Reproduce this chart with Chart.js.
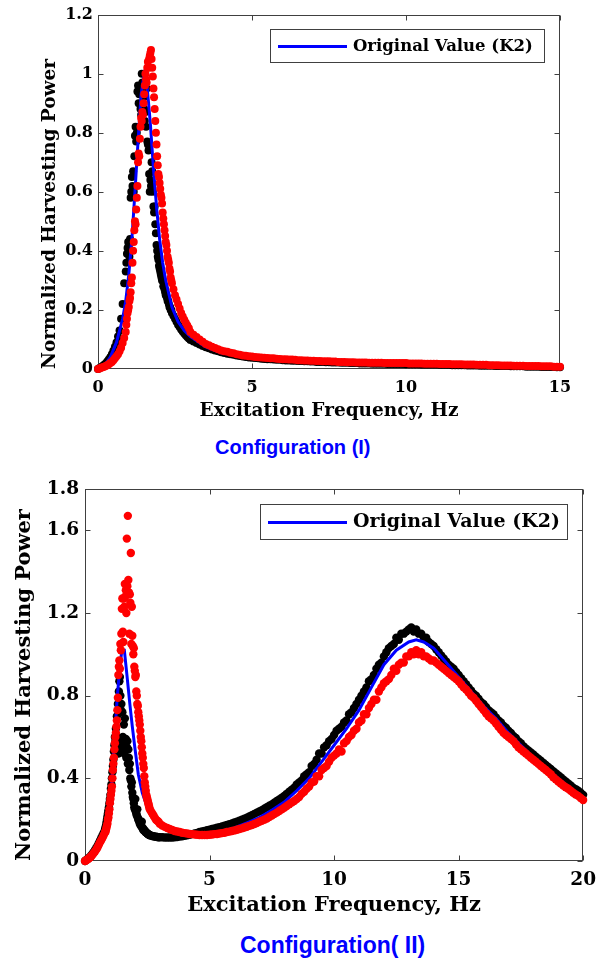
<!DOCTYPE html>
<html><head><meta charset="utf-8">
<script src="https://cdn.jsdelivr.net/npm/chart.js@4.4.1/dist/chart.umd.min.js"></script>
<style>
html,body{margin:0;padding:0;background:#fff;}
#wrap{position:relative;width:604px;height:962px;overflow:hidden;background:#fff;}
canvas{position:absolute;left:0;}
.cap{position:absolute;font-family:"Liberation Sans",Arial,sans-serif;font-weight:bold;color:#0000ff;white-space:nowrap;}
</style></head><body>
<div id="wrap">
<canvas id="c1" width="604" height="430" style="top:0px"></canvas>
<div class="cap" style="left:215px;top:437px;font-size:20px;line-height:20px;">Configuration (I)</div>
<canvas id="c2" width="604" height="460" style="top:470px"></canvas>
<div class="cap" style="left:240px;top:934px;font-size:23px;line-height:23px;">Configuration( II)</div>
</div>
<script>
// ---------- labels ----------
const legendLabel = "Original Value (K2)";
const xTitle = "Excitation Frequency, Hz";
const yTitle = "Normalized Harvesting Power";

// ---------- data : Configuration (I) ----------
const xTicks1 = [0, 5, 10, 15];
const yTicks1 = [0, 0.2, 0.4, 0.6, 0.8, 1, 1.2];

const lineF1 = [0,0.2,0.4,0.6,0.8,0.9,1.0,1.1,1.2,1.3,1.4,1.5,1.55,1.6,1.7,1.8,1.9,2.0,2.1,2.2,2.4,2.6,2.8,3.0,3.5,4,5,6,7,8,10,12,15];
const lineP1 = [0,0.01,0.04,0.09,0.17,0.23,0.32,0.44,0.6,0.77,0.93,1.0,0.99,0.95,0.83,0.68,0.55,0.44,0.36,0.3,0.21,0.16,0.13,0.11,0.075,0.055,0.038,0.03,0.026,0.022,0.018,0.014,0.007];

const freq1 = [0,0.05,0.1,0.15,0.2,0.25,0.3,0.35,0.4,0.45,0.5,0.55,0.6,0.65,0.7,0.75,0.8,0.85,0.9,
0.92,0.94,0.96,0.98,1.0,1.02,1.04,1.06,1.08,1.1,
1.12,1.14,1.16,1.18,1.2,1.22,1.24,1.26,1.28,1.3,
1.32,1.34,1.36,1.38,1.4,1.42,1.44,1.46,1.48,1.5,
1.52,1.54,1.56,1.58,1.6,1.62,1.64,1.66,1.68,1.7,
1.72,1.74,1.76,1.78,1.8,1.82,1.84,1.86,1.88,1.9,
1.92,1.94,1.96,1.98,2.0,2.02,2.04,2.06,2.08,2.1,
2.12,2.14,2.16,2.18,2.2,2.22,2.24,2.26,2.28,2.3,
2.32,2.34,2.36,2.38,2.4,
2.45,2.5,2.55,2.6,2.65,2.7,2.75,2.8,2.85,2.9,2.95,3.0,
3.1,3.2,3.3,3.4,3.5,3.6,3.7,3.8,3.9,4.0,
4.1,4.2,4.3,4.4,4.5,4.6,4.7,4.8,4.9,5.0,
5.1,5.2,5.3,5.4,5.5,5.6,5.7,5.8,5.9,6.0,
6.1,6.2,6.3,6.4,6.5,6.6,6.7,6.8,6.9,7.0,
7.1,7.2,7.3,7.4,7.5,7.6,7.7,7.8,7.9,8.0,
8.1,8.2,8.3,8.4,8.5,8.6,8.7,8.8,8.9,9.0,
9.1,9.2,9.3,9.4,9.5,9.6,9.7,9.8,9.9,10.0,
10.1,10.2,10.3,10.4,10.5,10.6,10.7,10.8,10.9,11.0,
11.1,11.2,11.3,11.4,11.5,11.6,11.7,11.8,11.9,12.0,
12.1,12.2,12.3,12.4,12.5,12.6,12.7,12.8,12.9,13.0,
13.1,13.2,13.3,13.4,13.5,13.6,13.7,13.8,13.9,14.0,
14.1,14.2,14.3,14.4,14.5,14.6,14.7,14.8,14.9,15.0];

const black1 = [0,0.003,0.006,0.01,0.014,0.019,0.025,0.032,0.04,0.05,0.062,0.075,0.09,0.11,0.13,0.17,0.22,0.29,0.33,
0.36,0.39,0.41,0.43,0.42,0.38,0.44,0.58,0.6,0.65,
0.62,0.67,0.6,0.72,0.79,0.82,0.77,0.8,0.94,0.96,
0.9,0.93,0.95,0.88,0.86,1.0,0.97,0.95,0.92,0.88,
0.84,0.87,0.82,0.95,0.77,0.76,0.74,0.66,0.6,0.64,
0.62,0.7,0.67,0.6,0.55,0.53,0.55,0.49,0.46,0.42,
0.4,0.38,0.37,0.35,0.34,0.33,0.32,0.31,0.3,0.3,
0.28,0.28,0.27,0.26,0.25,0.25,0.24,0.23,0.23,0.22,
0.21,0.21,0.2,0.2,0.19,
0.18,0.17,0.16,0.15,0.142,0.134,0.127,0.12,0.114,0.108,0.103,0.098,
0.093,0.088,0.083,0.078,0.074,0.07,0.066,0.063,0.06,0.057,
0.054,0.052,0.05,0.048,0.046,0.044,0.042,0.041,0.039,0.038,
0.037,0.036,0.035,0.034,0.033,0.033,0.032,0.031,0.031,0.03,
0.029,0.029,0.028,0.028,0.027,0.027,0.026,0.026,0.025,0.025,
0.024,0.024,0.024,0.023,0.023,0.022,0.022,0.022,0.021,0.021,
0.021,0.02,0.02,0.02,0.019,0.019,0.019,0.019,0.018,0.018,
0.018,0.018,0.018,0.017,0.017,0.017,0.017,0.017,0.017,0.016,
0.016,0.016,0.016,0.016,0.015,0.015,0.015,0.015,0.015,0.015,
0.014,0.014,0.014,0.014,0.013,0.013,0.013,0.013,0.013,0.012,
0.012,0.012,0.012,0.011,0.011,0.011,0.011,0.011,0.01,0.01,
0.01,0.01,0.01,0.009,0.009,0.009,0.009,0.009,0.008,0.008,
0.008,0.008,0.008,0.007,0.007,0.007,0.007,0.007,0.006,0.006];

const red1 = [0,0.002,0.004,0.006,0.008,0.01,0.013,0.016,0.02,0.024,0.03,0.036,0.043,0.05,0.06,0.072,0.088,0.105,0.125,
0.15,0.17,0.19,0.2,0.21,0.23,0.24,0.26,0.29,0.31,
0.36,0.4,0.43,0.47,0.5,0.49,0.54,0.58,0.62,0.7,
0.73,0.72,0.78,0.82,0.85,0.84,0.87,0.86,0.9,0.93,
0.96,1.0,0.98,0.97,1.02,1.04,1.02,1.05,1.06,1.07,
1.08,1.05,1.02,0.99,0.95,0.92,0.88,0.84,0.8,0.76,
0.72,0.69,0.66,0.65,0.63,0.61,0.59,0.58,0.56,0.53,
0.51,0.49,0.47,0.45,0.43,0.42,0.4,0.38,0.37,0.36,
0.34,0.33,0.31,0.3,0.29,
0.27,0.25,0.235,0.22,0.205,0.19,0.178,0.167,0.157,0.147,0.138,0.125,
0.116,0.108,0.1,0.092,0.085,0.08,0.075,0.071,0.067,0.063,
0.06,0.058,0.055,0.053,0.05,0.048,0.046,0.045,0.043,0.042,
0.041,0.04,0.039,0.038,0.037,0.036,0.036,0.035,0.034,0.033,
0.033,0.032,0.032,0.031,0.03,0.03,0.029,0.029,0.028,0.028,
0.027,0.027,0.026,0.026,0.026,0.025,0.025,0.024,0.024,0.024,
0.023,0.023,0.023,0.022,0.022,0.022,0.022,0.021,0.021,0.021,
0.021,0.021,0.02,0.02,0.02,0.02,0.02,0.02,0.02,0.02,
0.019,0.019,0.019,0.019,0.019,0.018,0.018,0.018,0.018,0.018,
0.017,0.017,0.017,0.017,0.016,0.016,0.016,0.016,0.015,0.015,
0.015,0.015,0.014,0.014,0.014,0.014,0.013,0.013,0.013,0.013,
0.012,0.012,0.012,0.012,0.011,0.011,0.011,0.011,0.01,0.01,
0.01,0.01,0.01,0.009,0.009,0.009,0.009,0.008,0.008,0.008];

// ---------- data : Configuration (II) ----------
const xTicks2 = [0, 5, 10, 15, 20];
const yTicks2 = [0, 0.4, 0.8, 1.2, 1.6, 1.8];

const lineF2 = [0,0.3,0.6,0.8,0.9,1.0,1.1,1.2,1.3,1.4,1.48,1.58,1.7,1.8,1.9,2.0,2.14,2.3,2.5,3.0,3.5,4.0,4.5,5.0,5.5,6.0,6.5,7.0,7.5,8.0,8.5,9.0,9.5,10.0,10.5,11.0,11.5,12.0,12.5,13.0,13.3,13.6,14.0,14.5,15.0,15.5,16.0,16.5,17.0,17.5,18.0,18.5,19.0,19.5,20.0];
const lineP2 = [0,0.02,0.07,0.12,0.16,0.24,0.42,0.62,0.8,0.94,1.02,1.02,0.88,0.76,0.65,0.55,0.42,0.33,0.26,0.18,0.15,0.135,0.13,0.135,0.145,0.16,0.185,0.21,0.245,0.285,0.34,0.4,0.48,0.56,0.64,0.73,0.84,0.95,1.02,1.06,1.07,1.06,1.03,0.96,0.89,0.82,0.75,0.69,0.62,0.56,0.5,0.45,0.4,0.35,0.3];

const freq2 = [0,0.05,0.1,0.15,0.2,0.25,0.3,0.35,0.4,0.45,0.5,0.55,0.6,0.65,0.7,0.75,0.8,
0.82,0.84,0.86,0.88,0.9,0.92,0.94,0.96,0.98,1.0,
1.02,1.04,1.06,1.08,1.1,1.12,1.14,1.16,1.18,1.2,
1.22,1.24,1.26,1.28,1.3,1.32,1.34,1.36,1.38,1.4,
1.42,1.44,1.46,1.48,1.5,1.52,1.54,1.56,1.58,1.6,
1.62,1.64,1.66,1.68,1.7,1.72,1.74,1.76,1.78,1.8,
1.82,1.84,1.86,1.88,1.9,1.92,1.94,1.96,1.98,2.0,
2.02,2.04,2.06,2.08,2.1,2.12,2.14,2.16,2.18,2.2,
2.22,2.24,2.26,2.28,2.3,2.32,2.34,2.36,2.38,2.4,
2.42,2.44,2.46,2.48,2.5,2.52,2.54,2.56,2.58,2.6,
2.65,2.7,2.75,2.8,2.85,2.9,2.95,3.0,
3.1,3.2,3.3,3.4,3.5,3.6,3.7,3.8,3.9,4.0,
4.1,4.2,4.3,4.4,4.5,4.6,4.7,4.8,4.9,5.0,
5.1,5.2,5.3,5.4,5.5,5.6,5.7,5.8,5.9,6.0,
6.1,6.2,6.3,6.4,6.5,6.6,6.7,6.8,6.9,7.0,
7.1,7.2,7.3,7.4,7.5,7.6,7.7,7.8,7.9,8.0,
8.1,8.2,8.3,8.4,8.5,8.6,8.7,8.8,8.9,9.0,
9.1,9.2,9.3,9.4,9.5,9.6,9.7,9.8,9.9,10.0,
10.1,10.2,10.3,10.4,10.5,10.6,10.7,10.8,10.9,11.0,
11.1,11.2,11.3,11.4,11.5,11.6,11.7,11.8,11.9,12.0,
12.1,12.2,12.3,12.4,12.5,12.6,12.7,12.8,12.9,13.0,
13.1,13.2,13.3,13.4,13.5,13.6,13.7,13.8,13.9,14.0,
14.1,14.2,14.3,14.4,14.5,14.6,14.7,14.8,14.9,15.0,
15.1,15.2,15.3,15.4,15.5,15.6,15.7,15.8,15.9,16.0,
16.1,16.2,16.3,16.4,16.5,16.6,16.7,16.8,16.9,17.0,
17.1,17.2,17.3,17.4,17.5,17.6,17.7,17.8,17.9,18.0,
18.1,18.2,18.3,18.4,18.5,18.6,18.7,18.8,18.9,19.0,
19.1,19.2,19.3,19.4,19.5,19.6,19.7,19.8,19.9,20.0];

const black2 = [0,0.005,0.01,0.015,0.02,0.027,0.035,0.043,0.052,0.062,0.073,0.085,0.098,0.11,0.123,0.136,0.15,
0.16,0.17,0.185,0.2,0.215,0.23,0.245,0.26,0.28,0.3,
0.32,0.35,0.37,0.4,0.43,0.46,0.49,0.53,0.56,0.6,
0.58,0.64,0.55,0.7,0.6,0.76,0.52,0.82,0.87,0.89,
0.8,0.73,0.76,0.57,0.72,0.6,0.54,0.66,0.52,0.69,
0.58,0.59,0.5,0.55,0.58,0.47,0.54,0.5,0.44,0.47,
0.4,0.39,0.36,0.38,0.33,0.31,0.3,0.28,0.26,0.25,
0.3,0.24,0.23,0.22,0.25,0.21,0.2,0.2,0.19,0.18,
0.18,0.17,0.17,0.19,0.16,0.16,0.15,0.15,0.15,0.145,
0.14,0.14,0.138,0.135,0.133,0.13,0.13,0.128,0.126,0.125,
0.123,0.121,0.12,0.118,0.117,0.116,0.115,0.115,
0.115,0.114,0.114,0.114,0.114,0.115,0.116,0.118,0.12,0.122,
0.124,0.127,0.13,0.133,0.136,0.14,0.143,0.146,0.149,0.152,
0.155,0.158,0.161,0.164,0.167,0.171,0.174,0.178,0.182,0.186,
0.19,0.195,0.2,0.205,0.21,0.216,0.222,0.228,0.234,0.24,
0.246,0.253,0.26,0.267,0.274,0.282,0.29,0.298,0.306,0.315,
0.325,0.335,0.345,0.355,0.37,0.38,0.39,0.41,0.42,0.43,
0.46,0.47,0.49,0.52,0.52,0.55,0.56,0.58,0.59,0.61,
0.63,0.64,0.65,0.67,0.68,0.71,0.72,0.74,0.76,0.78,
0.8,0.82,0.84,0.87,0.88,0.9,0.93,0.95,0.96,0.99,
1.01,1.03,1.04,1.05,1.08,1.07,1.1,1.1,1.11,1.12,
1.13,1.11,1.12,1.1,1.1,1.08,1.08,1.06,1.05,1.04,
1.025,1.01,0.995,0.98,0.965,0.95,0.94,0.93,0.915,0.9,
0.885,0.87,0.855,0.84,0.825,0.81,0.8,0.785,0.77,0.76,
0.745,0.73,0.72,0.71,0.695,0.68,0.67,0.655,0.645,0.63,
0.62,0.605,0.595,0.58,0.57,0.555,0.545,0.535,0.525,0.515,
0.505,0.495,0.485,0.475,0.465,0.455,0.445,0.435,0.425,0.415,
0.405,0.395,0.385,0.375,0.365,0.355,0.348,0.34,0.33,0.32];

const red2 = [0,0.004,0.008,0.012,0.017,0.023,0.03,0.038,0.046,0.055,0.065,0.077,0.09,0.1,0.112,0.125,0.138,
0.14,0.15,0.16,0.17,0.18,0.2,0.21,0.23,0.25,0.28,
0.3,0.32,0.34,0.36,0.4,0.44,0.47,0.5,0.54,0.57,
0.6,0.62,0.65,0.68,0.73,0.79,0.9,0.94,0.97,0.93,
1.05,1.02,1.1,1.22,1.27,1.11,1.06,1.27,1.23,1.34,
1.28,1.31,1.2,1.56,1.33,1.67,1.36,1.3,1.1,1.29,
1.25,1.49,1.05,1.23,1.09,1.04,1.0,1.03,0.94,0.92,
0.89,0.9,0.82,0.8,0.76,0.75,0.72,0.7,0.68,0.66,
0.63,0.6,0.58,0.55,0.52,0.5,0.47,0.45,0.41,0.38,
0.36,0.34,0.32,0.31,0.3,0.29,0.28,0.27,0.26,0.25,
0.24,0.23,0.22,0.21,0.2,0.195,0.19,0.18,
0.172,0.165,0.16,0.155,0.15,0.145,0.143,0.14,0.137,0.135,
0.133,0.131,0.13,0.128,0.127,0.126,0.126,0.126,0.126,0.127,
0.128,0.13,0.131,0.133,0.135,0.137,0.14,0.142,0.145,0.148,
0.151,0.155,0.158,0.162,0.166,0.17,0.174,0.179,0.184,0.19,
0.195,0.2,0.206,0.213,0.22,0.227,0.234,0.242,0.25,0.258,
0.266,0.275,0.283,0.29,0.3,0.31,0.325,0.335,0.35,0.36,
0.38,0.385,0.41,0.41,0.44,0.45,0.46,0.48,0.5,0.51,
0.52,0.54,0.53,0.57,0.58,0.6,0.61,0.63,0.64,0.67,
0.68,0.71,0.71,0.74,0.76,0.78,0.78,0.82,0.84,0.86,
0.87,0.88,0.9,0.93,0.92,0.95,0.96,0.96,0.99,0.99,
1.01,1.0,1.02,1.0,1.01,0.99,0.99,0.98,0.97,0.97,
0.96,0.95,0.94,0.93,0.92,0.91,0.9,0.89,0.88,0.87,
0.855,0.84,0.83,0.815,0.8,0.79,0.775,0.76,0.745,0.73,
0.715,0.7,0.69,0.68,0.665,0.65,0.635,0.62,0.61,0.6,
0.59,0.58,0.565,0.55,0.54,0.53,0.52,0.51,0.5,0.49,
0.48,0.47,0.46,0.45,0.44,0.43,0.42,0.405,0.395,0.385,
0.375,0.365,0.357,0.35,0.34,0.33,0.322,0.315,0.305,0.295];

// ---------- helpers & plugins ----------
const pts = (xs, ys) => xs.map((x, i) => ({x: x, y: ys[i]}));

const framePlugin = {
  id: 'frame',
  beforeDatasetsDraw(chart, args, o) {
    const {ctx, chartArea: a, scales} = chart;
    const L = Math.round(a.left) + 0.5, R = Math.round(a.right) - 0.5;
    const T = Math.round(a.top) + 0.5, B = Math.round(a.bottom) - 0.5;
    ctx.save();
    ctx.strokeStyle = o.color; ctx.lineWidth = 1;
    ctx.strokeRect(L, T, R - L, B - T);
    ctx.beginPath();
    scales.x.ticks.forEach(t => {
      const p = Math.round(scales.x.getPixelForValue(t.value)) + 0.5;
      ctx.moveTo(p, B); ctx.lineTo(p, B - o.len);
      ctx.moveTo(p, T); ctx.lineTo(p, T + o.len);
    });
    scales.y.ticks.forEach(t => {
      const p = Math.round(scales.y.getPixelForValue(t.value)) + 0.5;
      ctx.moveTo(L, p); ctx.lineTo(L + o.len, p);
      ctx.moveTo(R, p); ctx.lineTo(R - o.len, p);
    });
    ctx.stroke();
    ctx.restore();
  }
};

const boxLegend = {
  id: 'boxLegend',
  afterDatasetsDraw(chart, args, o) {
    const ctx = chart.ctx;
    const ds = chart.data.datasets[0];
    ctx.save();
    ctx.fillStyle = '#fff';
    ctx.fillRect(o.x, o.y, o.w, o.h);
    ctx.strokeStyle = o.border; ctx.lineWidth = 1;
    ctx.strokeRect(o.x + 0.5, o.y + 0.5, o.w, o.h);
    const cy = o.y + o.h / 2 + 1;
    ctx.strokeStyle = ds.borderColor; ctx.lineWidth = ds.borderWidth;
    ctx.beginPath(); ctx.moveTo(o.x1, cy); ctx.lineTo(o.x2, cy); ctx.stroke();
    ctx.fillStyle = '#000'; ctx.font = o.font;
    ctx.textBaseline = 'middle'; ctx.textAlign = 'left';
    ctx.fillText(ds.label, o.tx, cy);
    ctx.restore();
  }
};

function makeChart(id, c) {
  const serif = '"DejaVu Serif", serif';
  return new Chart(document.getElementById(id), {
    type: 'scatter',
    data: {
      datasets: [
        {label: legendLabel, data: pts(c.lineF, c.lineP), showLine: true, borderColor: '#0000ff',
         backgroundColor: '#0000ff', borderWidth: 3, pointRadius: 0, tension: 0, order: 2, clip: 10},
        {label: 'black', data: pts(c.freq, c.black), backgroundColor: '#000000', borderWidth: 0,
         pointRadius: c.r, pointHoverRadius: c.r, order: 3, clip: 10},
        {label: 'red', data: pts(c.freq, c.red), backgroundColor: '#ff0000', borderWidth: 0,
         pointRadius: c.r, pointHoverRadius: c.r, order: 1, clip: 10}
      ]
    },
    options: {
      responsive: false, animation: false, devicePixelRatio: 1,
      events: [],
      layout: {padding: {top: c.padTop, right: c.padRight, left: 0, bottom: 0}},
      plugins: {
        legend: {display: false}, tooltip: {enabled: false},
        frame: {color: '#404040', len: 5},
        boxLegend: c.legend
      },
      scales: {
        x: {
          type: 'linear', min: c.xTicks[0], max: c.xTicks[c.xTicks.length - 1],
          afterBuildTicks: ax => { ax.ticks = c.xTicks.map(v => ({value: v})); },
          afterFit: s => { s.height = c.xAxisH; },
          grid: {display: false, drawTicks: false}, border: {display: false},
          ticks: {autoSkip: false, maxRotation: 0, padding: c.xTickPad, color: '#000',
                  font: {family: serif, weight: 'bold', size: c.tickSize}, callback: v => String(v)},
          title: {display: true, text: xTitle, color: '#000',
                  font: {family: serif, weight: 'bold', size: c.titleSize},
                  padding: {top: 0, bottom: c.xTitlePad}}
        },
        y: {
          type: 'linear', min: c.yTicks[0], max: c.yTicks[c.yTicks.length - 1],
          afterBuildTicks: ax => { ax.ticks = c.yTicks.map(v => ({value: v})); },
          afterFit: s => { s.width = c.yAxisW; },
          grid: {display: false, drawTicks: false}, border: {display: false},
          ticks: {autoSkip: false, padding: c.yTickPad, color: '#000',
                  font: {family: serif, weight: 'bold', size: c.tickSize}, callback: v => String(v)},
          title: {display: true, text: yTitle, color: '#000', align: 'start',
                  font: {family: serif, weight: 'bold', size: c.titleSize},
                  padding: {top: c.yTitlePad, bottom: 0}}
        }
      }
    },
    plugins: [framePlugin, boxLegend]
  });
}

makeChart('c1', {
  lineF: lineF1, lineP: lineP1, freq: freq1, black: black1, red: red1,
  xTicks: xTicks1, yTicks: yTicks1, r: 4,
  padTop: 13.5, padRight: 44, xAxisH: 61, yAxisW: 98,
  tickSize: 16, titleSize: 18.5, xTickPad: 9, yTickPad: 5, xTitlePad: 8, yTitlePad: 39,
  legend: {x: 270, y: 29, w: 274, h: 33, x1: 278, x2: 347, tx: 353, border: '#404040',
           font: 'bold 16.5px "DejaVu Serif"'}
});

makeChart('c2', {
  lineF: lineF2, lineP: lineP2, freq: freq2, black: black2, red: red2,
  xTicks: xTicks2, yTicks: yTicks2, r: 4.2,
  padTop: 19, padRight: 18, xAxisH: 69, yAxisW: 85,
  tickSize: 18.5, titleSize: 21, xTickPad: 8, yTickPad: 6, xTitlePad: 11.4, yTitlePad: 12.4,
  legend: {x: 260, y: 34, w: 307, h: 35, x1: 268, x2: 347, tx: 353, border: '#404040',
           font: 'bold 19px "DejaVu Serif"'}
});
</script>
</body></html>
